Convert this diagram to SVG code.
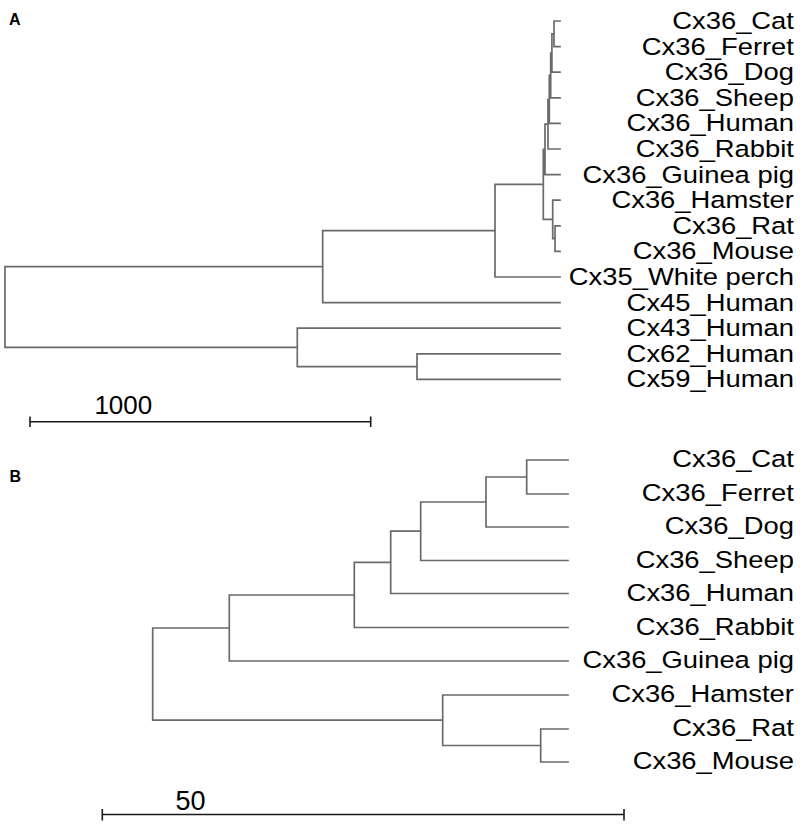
<svg xmlns="http://www.w3.org/2000/svg" width="800" height="826" viewBox="0 0 800 826">
<style>
.br{fill:none;stroke:#6a6a6a;stroke-width:1.7;stroke-linecap:square}
.sb{fill:none;stroke:#1a1a1a;stroke-width:1.6}
.lbl{font-family:"Liberation Sans",Arial,sans-serif;font-size:23.5px;fill:#000;text-anchor:end}
.num{font-family:"Liberation Sans",Arial,sans-serif;fill:#000;text-anchor:middle}
.pl{font-family:"Liberation Sans",Arial,sans-serif;font-weight:bold;font-size:16px;fill:#000}
</style>
<rect width="800" height="826" fill="#fff"/>
<text class="pl" x="9" y="25">A</text>
<text class="pl" x="9.5" y="482">B</text>

<g id="connectors">
<g id="tree-a">
<path class="br" d="M5,266.7V347.4 M5,266.7H322.7 M322.7,230.7V302.6 M322.7,302.6H560 M322.7,230.7H495 M495,184.4V277 M495,277H560 M495,184.4H543.3 M543.3,149.4V219.4 M543.3,149.4H545 M545,124.2V174.6 M545,174.6H560 M545,124.2H548 M548,99.4V149 M548,149H560 M548,99.4H549.3 M549.3,75.4V123.4 M549.3,123.4H560 M549.3,75.4H550.7 M550.7,53V97.8 M550.7,97.8H560 M550.7,53H551.9 M551.9,33.8V72.2 M551.9,72.2H560 M551.9,33.8H554 M554,21V46.6 M554,21H560 M554,46.6H560 M543.3,219.4H552.7 M552.7,200.2V238.6 M552.7,200.2H560 M552.7,238.6H555 M555,225.8V251.4 M555,225.8H560 M555,251.4H560 M5,347.4H297.3 M297.3,328.2V366.6 M297.3,328.2H560 M297.3,366.6H417 M417,353.8V379.4 M417,353.8H560 M417,379.4H560"/>
</g>
<g id="tree-b">
<path class="br" d="M152.7,628V720.2 M152.7,628H229.3 M229.3,595V661 M229.3,661H568 M229.3,595H354.3 M354.3,562.4V627.5 M354.3,627.5H568 M354.3,562.4H390.7 M390.7,531.2V593.5 M390.7,593.5H568 M390.7,531.2H420.7 M420.7,502V560.5 M420.7,560.5H568 M420.7,502H486 M486,477V527 M486,527H568 M486,477H526.7 M526.7,460V494 M526.7,460H568 M526.7,494H568 M152.7,720.2H442.7 M442.7,695V745.5 M442.7,695H568 M442.7,745.5H540.7 M540.7,729V762 M540.7,729H568 M540.7,762H568"/>
</g>
</g>

<g id="scale-a">
<path class="sb" d="M30,421.7H370.7 M30,416.5V427 M370.7,416.5V427"/>
<text class="num" x="123.3" y="414" font-size="26">1000</text>
</g>
<g id="scale-b">
<path class="sb" d="M102.3,814.5H624 M102.3,809V820.5 M624,809V820.5"/>
<text class="num" x="190.5" y="810" font-size="27">50</text>
</g>

<g id="labels-a" transform="scale(1.165 1)">
<g id="a-cat"><text class="lbl" x="681.5" y="29">Cx36_Cat</text></g>
<g id="a-ferret"><text class="lbl" x="681.5" y="54.6">Cx36_Ferret</text></g>
<g id="a-dog"><text class="lbl" x="681.5" y="80.2">Cx36_Dog</text></g>
<g id="a-sheep"><text class="lbl" x="681.5" y="105.8">Cx36_Sheep</text></g>
<g id="a-human"><text class="lbl" x="681.5" y="131.4">Cx36_Human</text></g>
<g id="a-rabbit"><text class="lbl" x="681.5" y="157">Cx36_Rabbit</text></g>
<g id="a-guineapig"><text class="lbl" x="681.5" y="182.6">Cx36_Guinea pig</text></g>
<g id="a-hamster"><text class="lbl" x="681.5" y="208.2">Cx36_Hamster</text></g>
<g id="a-rat"><text class="lbl" x="681.5" y="233.8">Cx36_Rat</text></g>
<g id="a-mouse"><text class="lbl" x="681.5" y="259.4">Cx36_Mouse</text></g>
<g id="a-perch"><text class="lbl" x="681.5" y="285">Cx35_White perch</text></g>
<g id="a-cx45"><text class="lbl" x="681.5" y="310.6">Cx45_Human</text></g>
<g id="a-cx43"><text class="lbl" x="681.5" y="336.2">Cx43_Human</text></g>
<g id="a-cx62"><text class="lbl" x="681.5" y="361.8">Cx62_Human</text></g>
<g id="a-cx59"><text class="lbl" x="681.5" y="387.4">Cx59_Human</text></g>
</g>

<g id="labels-b" transform="scale(1.165 1)">
<g id="b-cat"><text class="lbl" x="681.5" y="467.5">Cx36_Cat</text></g>
<g id="b-ferret"><text class="lbl" x="681.5" y="501.5">Cx36_Ferret</text></g>
<g id="b-dog"><text class="lbl" x="681.5" y="534.5">Cx36_Dog</text></g>
<g id="b-sheep"><text class="lbl" x="681.5" y="568">Cx36_Sheep</text></g>
<g id="b-human"><text class="lbl" x="681.5" y="601">Cx36_Human</text></g>
<g id="b-rabbit"><text class="lbl" x="681.5" y="635">Cx36_Rabbit</text></g>
<g id="b-guineapig"><text class="lbl" x="681.5" y="668.5">Cx36_Guinea pig</text></g>
<g id="b-hamster"><text class="lbl" x="681.5" y="702.5">Cx36_Hamster</text></g>
<g id="b-rat"><text class="lbl" x="681.5" y="736.5">Cx36_Rat</text></g>
<g id="b-mouse"><text class="lbl" x="681.5" y="769.5">Cx36_Mouse</text></g>
</g>
</svg>
